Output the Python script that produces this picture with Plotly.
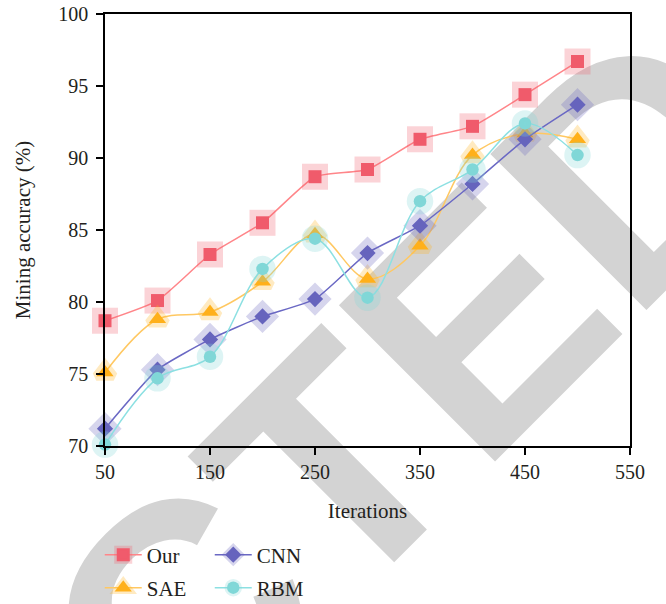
import math
import plotly.graph_objects as go

# ---- data ----
iterations = [50, 100, 150, 200, 250, 300, 350, 400, 450, 500]
our = [78.7, 80.1, 83.3, 85.5, 88.7, 89.2, 91.3, 92.2, 94.4, 96.7]
sae = [75.1, 78.8, 79.3, 81.4, 84.7, 81.6, 83.9, 90.2, 91.7, 91.3]
cnn = [71.2, 75.3, 77.4, 79.0, 80.2, 83.4, 85.3, 88.2, 91.3, 93.7]
rbm = [70.1, 74.7, 76.2, 82.3, 84.4, 80.3, 87.0, 89.2, 92.4, 90.2]
x_ticks = [50, 150, 250, 350, 450, 550]
y_ticks = [70, 75, 80, 85, 90, 95, 100]
watermark = "RETRACTED"

W, H = 666, 604
ML, MT, PW, PH = 105, 14, 525, 432
MR, MB = W - ML - PW, H - MT - PH

SERIF = "Liberation Serif"
TXT = "#231F20"

def rgba(hex_, a):
    h = hex_.lstrip('#')
    r, g, b = int(h[0:2], 16), int(h[2:4], 16), int(h[4:6], 16)
    return f"rgba({r},{g},{b},{a})"

series = [
    # name, values, marker color, line color, symbol, size, halo width, smoothing, legend
    ("Our", our, "#F05B6C", "#FF8589", "square", 13, 13, 0.5, "legend"),
    ("SAE", sae, "#FFB01B", "#FFC862", "triangle-up", 15, 9, 1.0, "legend2"),
    ("CNN", cnn, "#6664BE", "#6A68C4", "diamond", 12.5, 12, 0.5, "legend"),
    ("RBM", rbm, "#80D8D8", "#8CE0E2", "circle", 12.5, 14, 1.0, "legend2"),
]

fig = go.Figure()
for name, vals, mc, lc, sym, sz, hw, sm, lg in series:
    fig.add_trace(go.Scatter(
        x=iterations, y=vals, name=name, mode="lines+markers",
        line=dict(color=lc, width=1.5, shape="spline", smoothing=sm),
        marker=dict(color=mc, symbol=sym, size=sz,
                    line=dict(color=rgba(mc, 0.27), width=hw)),
        legend=lg, cliponaxis=False,
    ))

# watermark: start of baseline in pixel space, text rotated -45 deg, drawn below the data
WM_SIZE = 321
ox, oy = -604.5, 1561.0
k = math.sqrt(0.5)
ax_, ay_ = ox - WM_SIZE * k, oy - WM_SIZE * k
def px2paper(px, py):
    return (px - ML) / PW, (MT + PH - py) / PH
x0p, y0p = px2paper(ax_, ay_)
x1p, y1p = px2paper(ax_ + 100 * k, ay_ - 100 * k)
fig.add_shape(type="line", xref="paper", yref="paper",
              x0=x0p, y0=y0p, x1=x1p, y1=y1p, layer="below",
              line=dict(width=0, color="rgba(0,0,0,0)"),
              label=dict(text=watermark, textangle=-45, textposition="start",
                         xanchor="left", yanchor="top", padding=0,
                         font=dict(family="Liberation Sans", size=WM_SIZE,
                                   color="#D3D3D3", weight="bold")))

axis_common = dict(showline=True, linecolor="black", linewidth=1.5, mirror=True,
                   ticks="outside", ticklen=7, tickwidth=1.5, tickcolor="black",
                   showgrid=False, zeroline=False,
                   tickfont=dict(family=SERIF, size=20, color=TXT))

legend_common = dict(orientation="h", xanchor="left", yanchor="middle",
                     bgcolor="rgba(0,0,0,0)", entrywidth=58, itemsizing="trace",
                     itemwidth=37,
                     font=dict(family=SERIF, size=21, color=TXT), x=-0.01)

fig.update_layout(
    width=W, height=H,
    margin=dict(l=ML, r=MR, t=MT, b=MB, autoexpand=False),
    paper_bgcolor="white", plot_bgcolor="white",
    xaxis=dict(range=[50, 550], tickvals=x_ticks, **axis_common,
               title=dict(text="Iterations", font=dict(family=SERIF, size=21, color=TXT), standoff=22)),
    yaxis=dict(range=[70, 100], tickvals=y_ticks, ticklabelstandoff=4, **axis_common,
               title=dict(text="Mining accuracy (%)", font=dict(family=SERIF, size=21, color=TXT), standoff=22)),
    legend=dict(y=(MT + PH - 555) / PH, **legend_common),
    legend2=dict(y=(MT + PH - 588) / PH, **legend_common),
    showlegend=True,
)

fig.write_html("out.html", config={"displayModeBar": False},
               post_script="document.body.style.margin='0px';")
